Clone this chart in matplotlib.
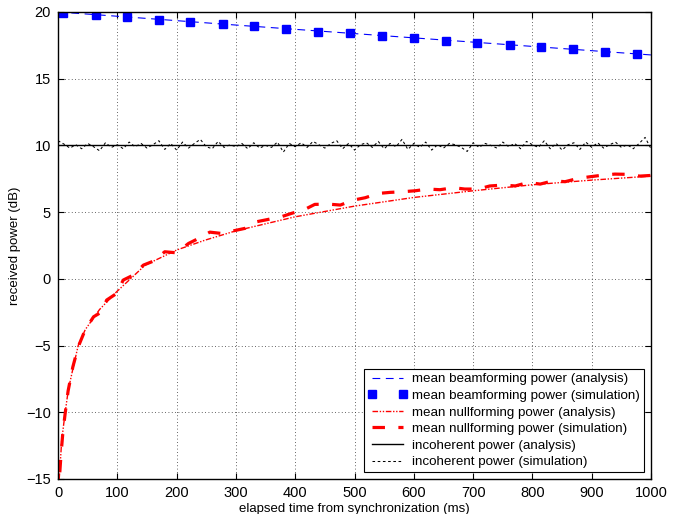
import matplotlib
matplotlib.use("Agg")
import matplotlib.pyplot as plt
import numpy as np

plt.rcParams['font.family'] = ['Liberation Sans', 'DejaVu Sans']

# ---- data ----
bf_ana_t = [0, 100, 200, 300, 400, 500, 600, 700, 800, 900, 1000]
bf_ana_y = [20.0, 19.68, 19.35, 19.02, 18.7, 18.38, 18.06, 17.74, 17.42, 17.1, 16.78]

bf_sim_t = [8, 64, 116, 170, 223, 278, 330, 384, 438, 492, 546, 600, 654, 707, 762, 815, 869, 922, 976]
bf_sim_y = [19.9, 19.78, 19.65, 19.4, 19.25, 19.08, 18.93, 18.73, 18.53, 18.4, 18.22, 18.03,
            17.85, 17.7, 17.55, 17.38, 17.2, 17.02, 16.85]

nf_ana_t = [2, 3.4, 6.2, 11.8, 17.4, 25.8, 34, 46, 70, 99, 147, 200, 248, 300, 400, 500,
            600, 700, 800, 900, 1000]
nf_ana_y = [-15.0, -14.1, -12.1, -10.1, -8.3, -6.6, -5.0, -3.8, -2.3, -0.96, 1.03, 2.16, 2.9,
            3.6, 4.65, 5.45, 6.1, 6.6, 7.05, 7.4, 7.7]

nf_sim_t = [3, 5, 8, 12, 17, 25, 34, 46, 60, 74, 82, 99, 110, 127, 144, 161, 180, 200, 220,
            237, 256, 276, 296, 315, 335, 355, 377, 394, 416, 433, 456, 476, 498, 518, 540,
            560, 582, 602, 624, 644, 667, 686, 709, 728, 751, 771, 793, 813, 835, 855, 877,
            897, 920, 939, 962, 981, 1000]
nf_sim_y = [-14.5, -13.2, -11.6, -10.1, -8.4, -6.6, -5.1, -3.8, -2.84, -2.47, -1.59, -1.09,
            -0.09, 0.28, 1.03, 1.33, 2.03, 1.95, 2.65, 3.03, 3.5, 3.4, 3.6, 3.78, 4.28, 4.46,
            4.66, 4.91, 5.2, 5.58, 5.6, 5.53, 5.9, 6.08, 6.4, 6.48, 6.53, 6.6, 6.73, 6.68,
            6.83, 6.73, 6.73, 6.96, 7.03, 6.96, 7.23, 7.1, 7.35, 7.28, 7.53, 7.65, 7.78,
            7.85, 7.83, 7.7, 7.75]

inc_ana_t = [0, 1000]
inc_ana_y = [10.0, 10.0]

inc_sim_t = list(range(0, 1001, 10))
inc_sim_y = [10.35, 10.1, 9.8, 10.05, 9.75, 10.15, 9.9, 9.6, 10.2, 9.85,
             10.05, 9.75, 10.25, 9.9, 10.15, 9.8, 10.05, 10.35, 9.7, 10.15,
             9.65, 10.25, 9.8, 10.15, 10.45, 9.9, 9.75, 10.3, 9.85, 10.05,
             9.9, 10.15, 9.75, 10.2, 9.8, 10.0, 9.85, 10.25, 9.5, 10.15,
             9.9, 10.2, 9.85, 10.3, 10.05, 9.8, 10.15, 10.35, 9.75, 10.15,
             9.65, 10.05, 10.2, 9.85, 10.3, 9.75, 10.15, 9.9, 10.45, 9.7,
             10.15, 9.85, 10.25, 9.65, 10.05, 9.8, 10.15, 10.05, 9.85, 9.55,
             10.2, 9.85, 10.15, 10.0, 9.8, 10.25, 9.9, 10.15, 9.75, 10.3,
             10.05, 9.85, 10.35, 9.75, 10.15, 9.65, 10.05, 10.2, 9.7, 10.25,
             9.85, 10.2, 9.8, 10.05, 10.25, 9.85, 10.05, 9.75, 10.15, 10.6, 9.75]

labels = ["mean beamforming power (analysis)",
          "mean beamforming power (simulation)",
          "mean nullforming power (analysis)",
          "mean nullforming power (simulation)",
          "incoherent power (analysis)",
          "incoherent power (simulation)"]

xticks = [0, 100, 200, 300, 400, 500, 600, 700, 800, 900, 1000]
yticks = [-15, -10, -5, 0, 5, 10, 15, 20]

# ---- figure ----
fig = plt.figure(figsize=(6.81, 5.14), dpi=100)
ax = fig.add_axes([0.0852, 0.0681, 0.8708, 0.9086])

ax.plot(bf_ana_t, bf_ana_y, color='blue', lw=0.8, linestyle=(0, (7, 5)), label=labels[0])
ax.plot(bf_sim_t, bf_sim_y, color='blue', linestyle='none', marker='s', ms=6.2,
        markeredgecolor='blue', label=labels[1])
ax.plot(nf_ana_t, nf_ana_y, color='red', lw=1.0, linestyle=(0, (4, 1.2, 1, 1.2, 1, 1.2)),
        label=labels[2])
ax.plot(nf_sim_t, nf_sim_y, color='red', lw=2.3, linestyle=(0, (3.9, 4.2)), label=labels[3])
ax.plot(inc_ana_t, inc_ana_y, color='black', lw=1.0, label=labels[4])
ax.plot(inc_sim_t, inc_sim_y, color='black', lw=0.75, linestyle=(0, (2.5, 2.5)), label=labels[5])

ax.set_xlim(0, 1000)
ax.set_ylim(-15, 20)
ax.set_xticks(xticks)
ax.set_yticks(yticks)
ax.tick_params(direction='in', top=True, right=True, length=4, width=0.8,
               labelsize=10.5, pad=5)
ax.grid(True, linestyle=(0, (1, 3)), color='#333333', lw=0.6)
for s in ax.spines.values():
    s.set_linewidth(1.0)

ax.set_xlabel("elapsed time from synchronization (ms)", fontsize=9.5, labelpad=2)
ax.set_ylabel("received power (dB)", fontsize=9.5, labelpad=4)

leg = ax.legend(loc='lower right', numpoints=2, fontsize=9.6, fancybox=False,
                framealpha=1, edgecolor='black', handlelength=2.9,
                borderaxespad=0.5, labelspacing=0.32, handletextpad=0.4,
                borderpad=0.3)
leg.get_frame().set_linewidth(0.8)

fig.savefig("out.png", dpi=100)
